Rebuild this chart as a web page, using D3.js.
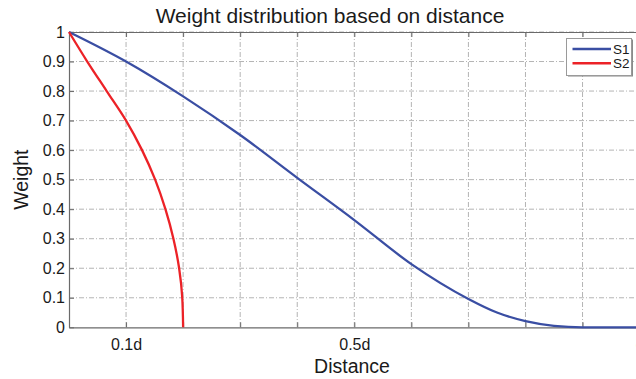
<!DOCTYPE html>
<html>
<head>
<meta charset="utf-8">
<script src="https://cdn.jsdelivr.net/npm/d3@7"></script>
<style>
  body { margin: 0; background: #fff; }
  svg { display: block; font-family: "Liberation Sans", Arial, sans-serif; }
</style>
</head>
<body>
<div id="chart"></div>
<script>
// ! Data
var s1_x = [0, 0.1, 0.2, 0.3, 0.4, 0.5, 0.6, 0.7, 0.75, 0.8, 0.85, 0.9, 1.0];
var s1_y = [1, 0.9, 0.782, 0.651, 0.506, 0.363, 0.214, 0.096, 0.05, 0.021, 0.005, 0, 0];
// S2 listed bottom to top (drawn with y as the running variable)
var s2_x = [0.2, 0.1985, 0.193, 0.183, 0.169, 0.151, 0.128, 0.1, 0.066, 0.032, 0];
var s2_y = [0, 0.1, 0.2, 0.3, 0.4, 0.5, 0.6, 0.7, 0.8, 0.9, 1];
var x_ticks = [0, 0.1, 0.2, 0.3, 0.4, 0.5, 0.6, 0.7, 0.8, 0.9, 1.0];
var x_tick_labels = ["", "0.1d", "", "", "", "0.5d", "", "", "", "", "d"];
var y_ticks = [0, 0.1, 0.2, 0.3, 0.4, 0.5, 0.6, 0.7, 0.8, 0.9, 1];
var y_tick_labels = ["0", "0.1", "0.2", "0.3", "0.4", "0.5", "0.6", "0.7", "0.8", "0.9", "1"];
var series_names = ["S1", "S2"];
var series_colors = ["#3a4ea3", "#ec2227"];

// ! Parameters
var width = 636, height = 379;
var plot_left = 69, plot_right = 639.6, plot_top = 32, plot_bottom = 327.3;

var svg = d3.select("#chart").append("svg")
  .attr("width", width)
  .attr("height", height);

var x = d3.scaleLinear().domain([0, 1]).range([plot_left, plot_right]);
var y = d3.scaleLinear().domain([0, 1]).range([plot_bottom, plot_top]);

// grid
svg.append("g")
  .selectAll("line")
  .data(x_ticks.slice(1))
  .enter().append("line")
  .attr("x1", function(d) { return x(d); })
  .attr("x2", function(d) { return x(d); })
  .attr("y1", plot_top).attr("y2", plot_bottom)
  .attr("stroke", "#b4b4b4")
  .attr("stroke-width", 1)
  .attr("stroke-dasharray", "5,2,1,2");

svg.append("g")
  .selectAll("line")
  .data(y_ticks.slice(1))
  .enter().append("line")
  .attr("y1", function(d) { return y(d); })
  .attr("y2", function(d) { return y(d); })
  .attr("x1", plot_left).attr("x2", plot_right)
  .attr("stroke", "#b4b4b4")
  .attr("stroke-width", 1)
  .attr("stroke-dasharray", "5,2,1,2");

// axes
var xAxis = svg.append("g")
  .attr("transform", "translate(0," + plot_bottom + ")")
  .call(d3.axisBottom(x).tickValues(x_ticks).tickSizeInner(-5).tickSizeOuter(0)
    .tickPadding(11)
    .tickFormat(function(d, i) { return x_tick_labels[i]; }));

var xAxisTop = svg.append("g")
  .attr("transform", "translate(0," + plot_top + ")")
  .call(d3.axisTop(x).tickValues(x_ticks).tickSizeInner(-5).tickSizeOuter(0)
    .tickFormat(""));

var yAxis = svg.append("g")
  .attr("transform", "translate(" + plot_left + ",0)")
  .call(d3.axisLeft(y).tickValues(y_ticks).tickSizeInner(-5).tickSizeOuter(0)
    .tickPadding(4)
    .tickFormat(function(d, i) { return y_tick_labels[i]; }));

[xAxis, xAxisTop, yAxis].forEach(function(a) {
  a.select(".domain").attr("stroke", "#6a6a6a").attr("stroke-width", 1.2);
  a.selectAll(".tick line").attr("stroke", "#6a6a6a");
  a.selectAll("text").attr("fill", "#1a1a1a").style("font-size", "16px");
});

// lines
var line_x = d3.line()
  .x(function(d) { return x(d[0]); })
  .y(function(d) { return y(d[1]); })
  .curve(d3.curveMonotoneX);

var line_y = d3.line()
  .x(function(d) { return x(d[0]); })
  .y(function(d) { return y(d[1]); })
  .curve(d3.curveMonotoneY);

var s1 = s1_x.map(function(d, i) { return [d, s1_y[i]]; });
var s2 = s2_x.map(function(d, i) { return [d, s2_y[i]]; });

svg.append("path").datum(s1)
  .attr("d", line_x).attr("fill", "none")
  .attr("stroke", series_colors[0]).attr("stroke-width", 2.3);

svg.append("path").datum(s2)
  .attr("d", line_y).attr("fill", "none")
  .attr("stroke", series_colors[1]).attr("stroke-width", 2.3);

// title and labels
svg.append("text")
  .attr("x", 330).attr("y", 23)
  .attr("text-anchor", "middle")
  .style("font-size", "21px").attr("fill", "#1a1a1a")
  .text("Weight distribution based on distance");

svg.append("text")
  .attr("x", 352).attr("y", 373)
  .attr("text-anchor", "middle")
  .style("font-size", "19.5px").attr("fill", "#1a1a1a")
  .text("Distance");

svg.append("text")
  .attr("transform", "translate(28," + (plot_top + plot_bottom) / 2 + ") rotate(-90)")
  .attr("text-anchor", "middle")
  .style("font-size", "19.5px").attr("fill", "#1a1a1a")
  .text("Weight");

// legend
var legend = svg.append("g");
legend.append("rect")
  .attr("x", 568).attr("y", 39.5).attr("width", 65).attr("height", 37)
  .attr("fill", "#8a8a8a");
legend.append("rect")
  .attr("x", 566.5).attr("y", 38.5).attr("width", 65).attr("height", 37)
  .attr("fill", "#fff").attr("stroke", "#9a9a9a").attr("stroke-width", 1);

series_names.forEach(function(name, i) {
  var ly = 49 + i * 14.3;
  legend.append("line")
    .attr("x1", 572.5).attr("x2", 611).attr("y1", ly).attr("y2", ly)
    .attr("stroke", series_colors[i]).attr("stroke-width", 2.6);
  legend.append("text")
    .attr("x", 613).attr("y", ly + 4.7)
    .style("font-size", "13.5px").attr("fill", "#1a1a1a")
    .text(name);
});
</script>
</body>
</html>
